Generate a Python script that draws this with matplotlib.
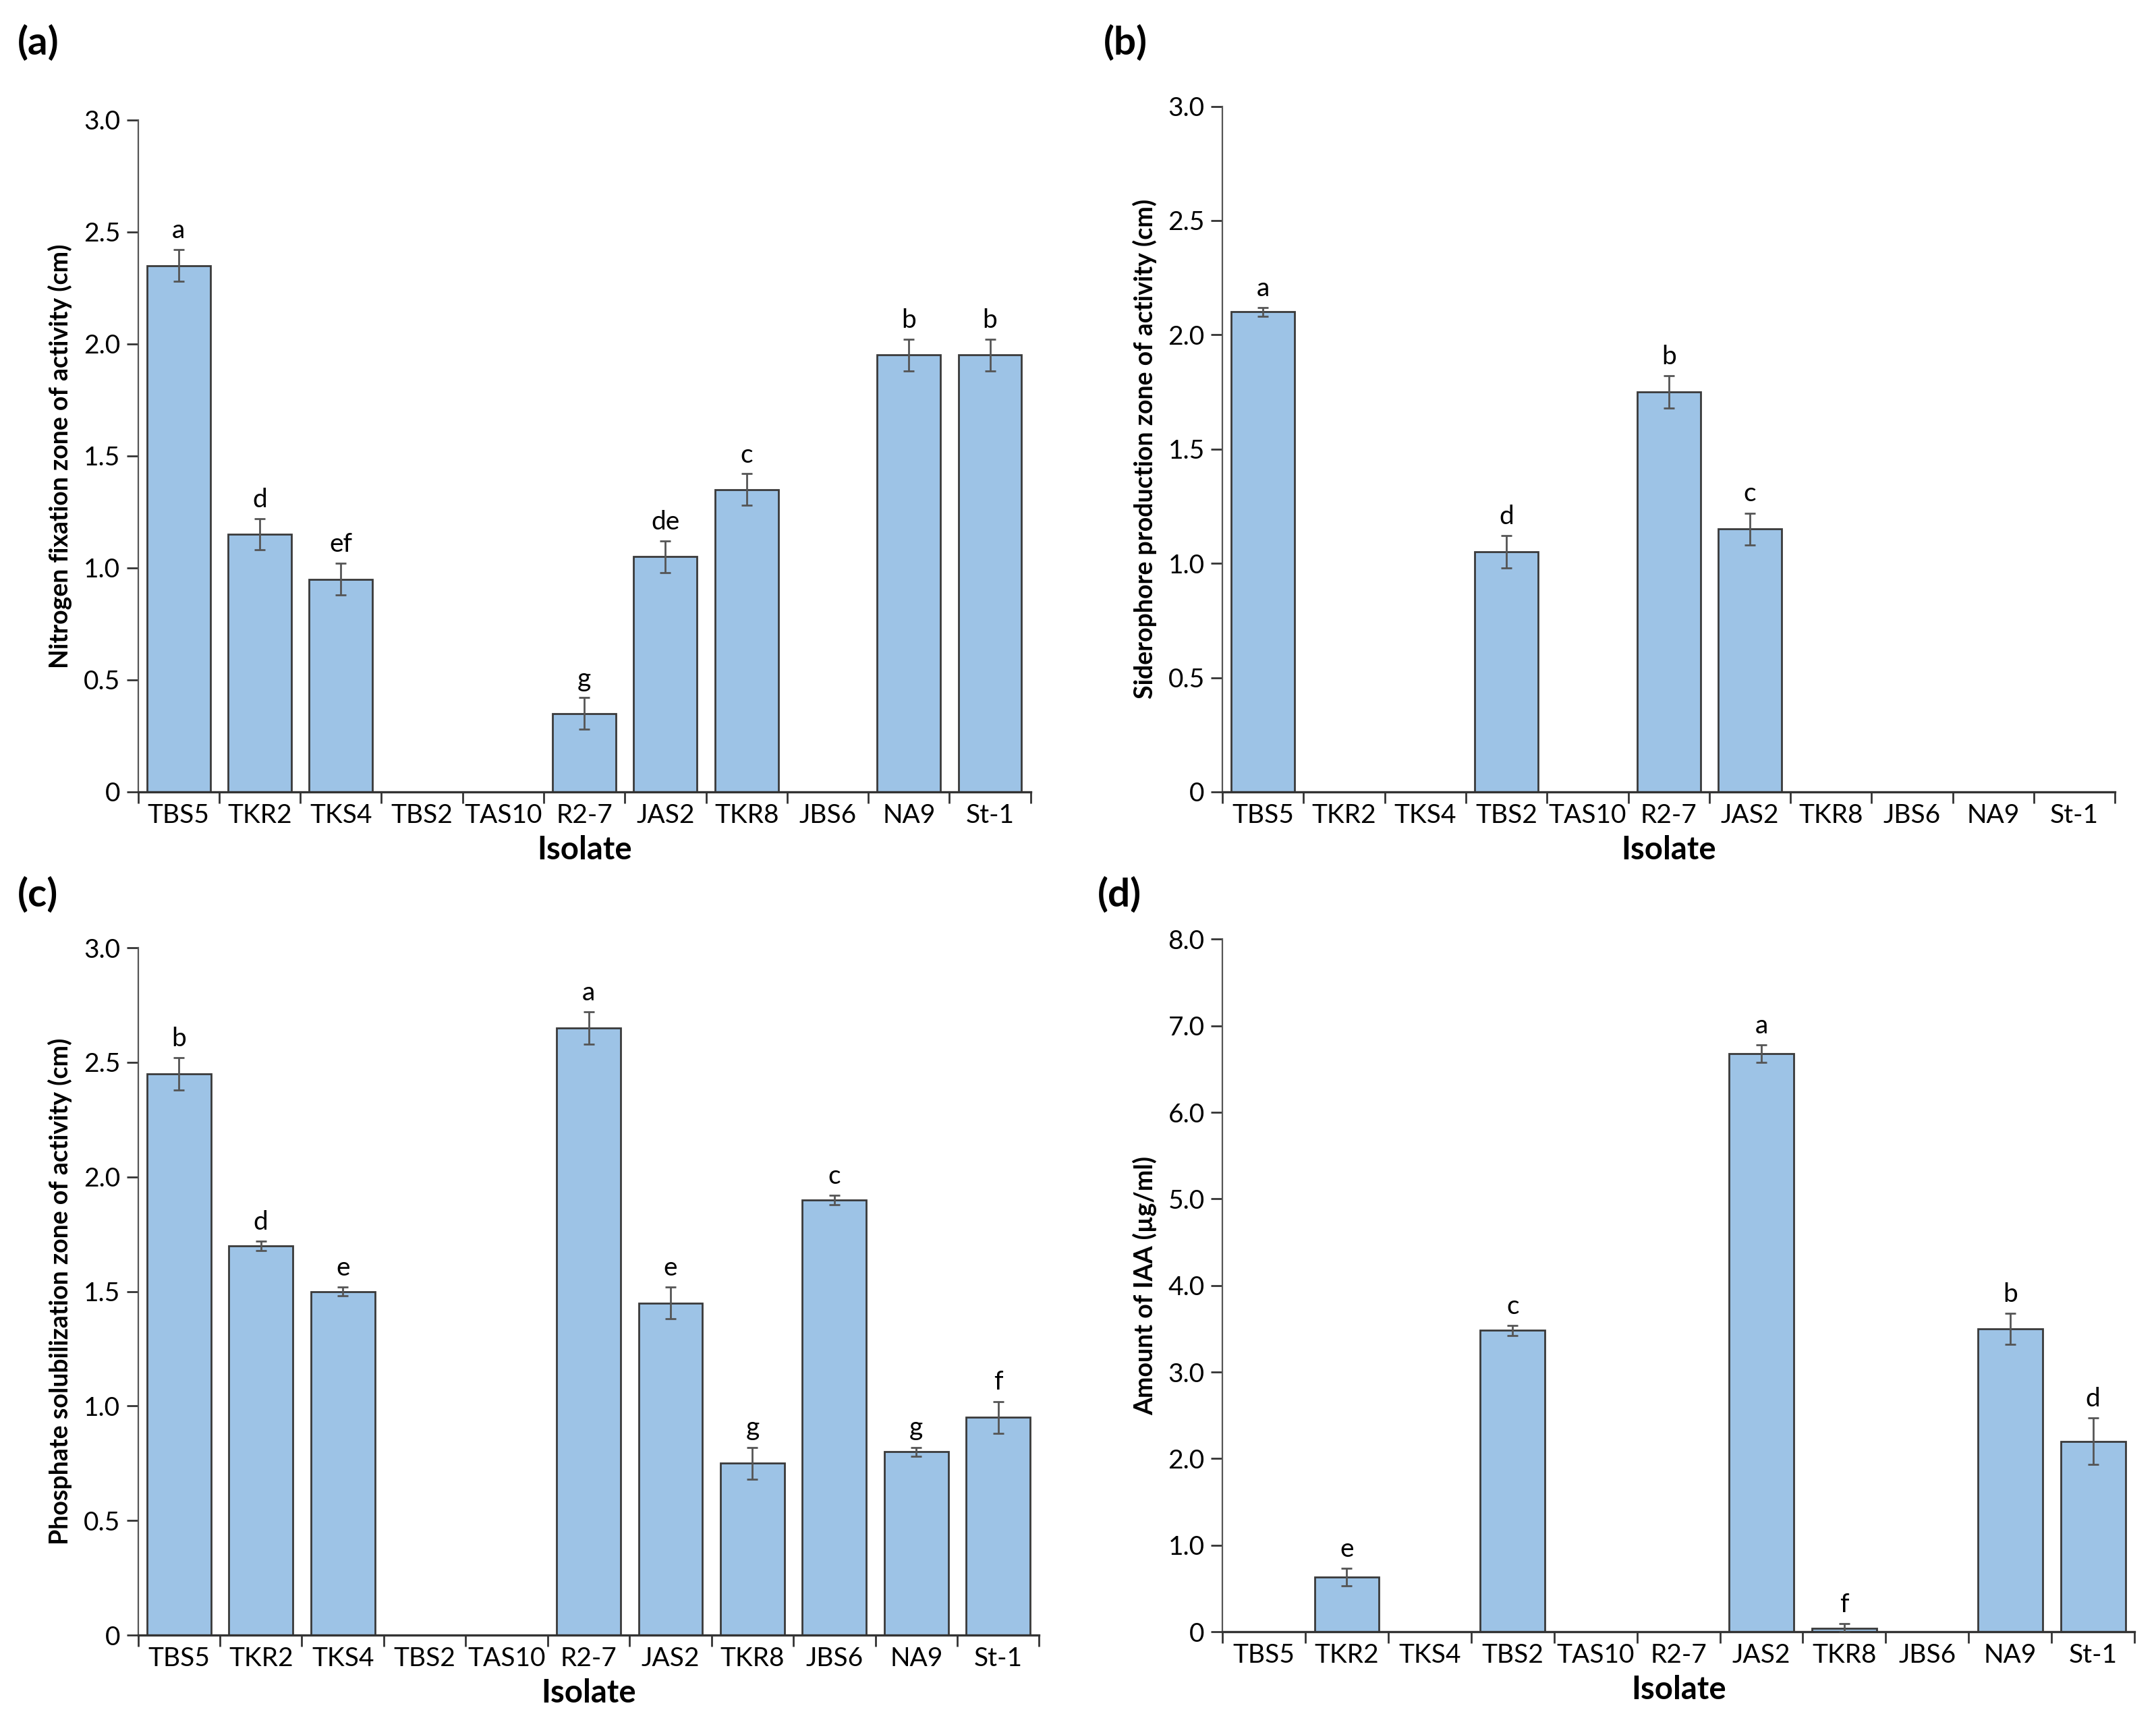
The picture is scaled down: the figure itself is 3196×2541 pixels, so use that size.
import matplotlib
matplotlib.use("Agg")
import matplotlib.pyplot as plt
import numpy as np

plt.rcParams['font.family'] = ['Lato', 'DejaVu Sans']

isolates = ["TBS5", "TKR2", "TKS4", "TBS2", "TAS10", "R2-7", "JAS2", "TKR8", "JBS6", "NA9", "St-1"]

# (a) nitrogen fixation
nitro_val = [2.35, 1.15, 0.95, 0, 0, 0.35, 1.05, 1.35, 0, 1.95, 1.95]
nitro_err = [0.07, 0.07, 0.07, 0, 0, 0.07, 0.07, 0.07, 0, 0.07, 0.07]
nitro_let = ["a", "d", "ef", "", "", "g", "de", "c", "", "b", "b"]

# (b) siderophore production
sidero_val = [2.10, 0, 0, 1.05, 0, 1.75, 1.15, 0, 0, 0, 0]
sidero_err = [0.02, 0, 0, 0.07, 0, 0.07, 0.07, 0, 0, 0, 0]
sidero_let = ["a", "", "", "d", "", "b", "c", "", "", "", ""]

# (c) phosphate solubilization
phos_val = [2.45, 1.70, 1.50, 0, 0, 2.65, 1.45, 0.75, 1.90, 0.80, 0.95]
phos_err = [0.07, 0.02, 0.02, 0, 0, 0.07, 0.07, 0.07, 0.02, 0.02, 0.07]
phos_let = ["b", "d", "e", "", "", "a", "e", "g", "c", "g", "f"]

# (d) IAA
iaa_val = [0, 0.63, 0, 3.48, 0, 0, 6.68, 0.04, 0, 3.50, 2.20]
iaa_err = [0, 0.10, 0, 0.06, 0, 0, 0.10, 0.05, 0, 0.18, 0.27]
iaa_let = ["", "e", "", "c", "", "", "a", "f", "", "b", "d"]

bar_col = "#9DC3E6"
edge_col = "#3a3a3a"


def draw_panel(ax, vals, errs, lets, ymax, step, ylabel, fmt, off):
    x = np.arange(len(isolates))
    ax.bar(x, vals, width=0.78, color=bar_col, edgecolor=edge_col, linewidth=1.0, zorder=2)
    for i in range(len(vals)):
        if vals[i] > 0:
            ax.errorbar(x[i], vals[i], yerr=errs[i], color="#555555", elinewidth=1.0,
                        capsize=3, capthick=1.0, zorder=3)
        if lets[i]:
            ax.text(x[i], vals[i] + errs[i] + off, lets[i], ha="center", va="bottom", fontsize=14)
    ax.set_xlim(-0.5, len(isolates) - 0.5)
    ax.set_ylim(0, ymax)
    ticks = np.arange(0, ymax + step / 2, step)
    ax.set_yticks(ticks)
    ax.set_yticklabels(["0"] + [fmt.format(t) for t in ticks[1:]], fontsize=14)
    ax.set_xticks(x)
    ax.set_xticklabels(isolates, fontsize=14)
    ax.set_xticks(np.arange(-0.5, len(isolates)), minor=True)
    ax.tick_params(axis="x", which="major", length=0, pad=6)
    ax.tick_params(axis="x", which="minor", length=6, width=1.0, color="#333333", direction="out")
    ax.tick_params(axis="y", length=6, width=1.0, color="#333333", direction="out")
    ax.spines["top"].set_visible(False)
    ax.spines["right"].set_visible(False)
    ax.spines["left"].set_color("#555555")
    ax.spines["bottom"].set_color("#333333")
    ax.spines["bottom"].set_linewidth(1.2)
    ax.set_xlabel("Isolate", fontsize=17, fontweight="bold", labelpad=4)
    ax.set_ylabel(ylabel, fontsize=13.5, fontweight="bold", labelpad=6)


fig = plt.figure(figsize=(15.98, 12.705), dpi=200)
ax_a = fig.add_axes([0.064, 0.538, 0.414, 0.392])
ax_b = fig.add_axes([0.567, 0.538, 0.414, 0.400])
ax_c = fig.add_axes([0.064, 0.046, 0.418, 0.401])
ax_d = fig.add_axes([0.567, 0.048, 0.423, 0.404])

draw_panel(ax_a, nitro_val, nitro_err, nitro_let, 3.0, 0.5,
           "Nitrogen fixation zone of activity (cm)", "{:.1f}", 0.03)
draw_panel(ax_b, sidero_val, sidero_err, sidero_let, 3.0, 0.5,
           "Siderophore production zone of activity (cm)", "{:.1f}", 0.03)
draw_panel(ax_c, phos_val, phos_err, phos_let, 3.0, 0.5,
           "Phosphate solubilization zone of activity (cm)", "{:.1f}", 0.03)
draw_panel(ax_d, iaa_val, iaa_err, iaa_let, 8.0, 1.0,
           "Amount of IAA (µg/ml)", "{:.1f}", 0.08)

fig.text(0.008, 0.975, "(a)", fontsize=21, fontweight="bold", va="center")
fig.text(0.512, 0.975, "(b)", fontsize=21, fontweight="bold", va="center")
fig.text(0.008, 0.478, "(c)", fontsize=21, fontweight="bold", va="center")
fig.text(0.509, 0.478, "(d)", fontsize=21, fontweight="bold", va="center")

fig.savefig("out.png", dpi=200)
